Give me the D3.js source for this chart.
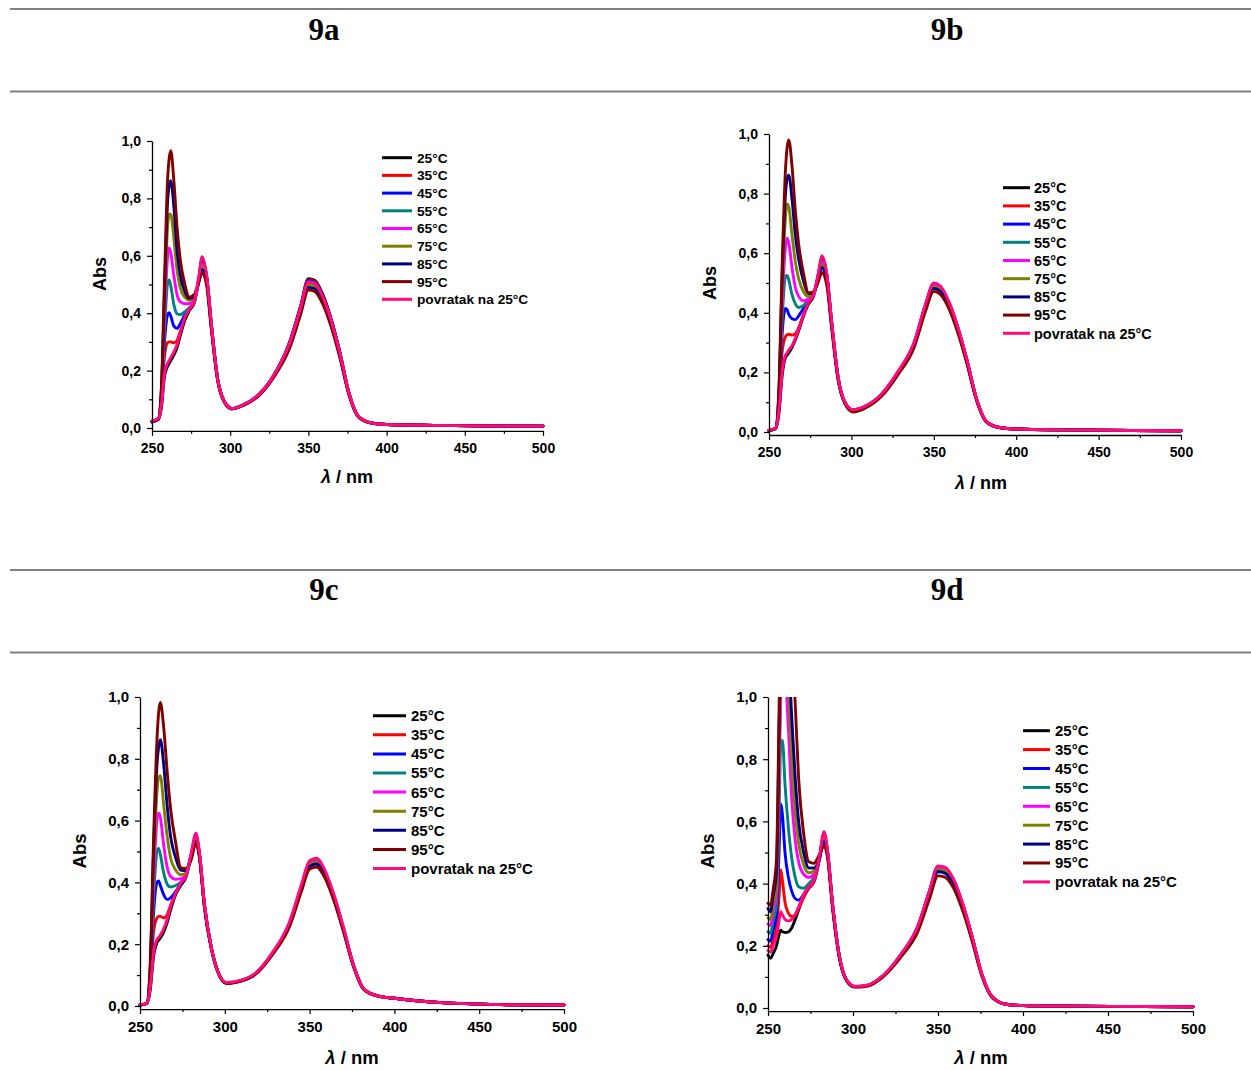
<!DOCTYPE html>
<html><head><meta charset="utf-8">
<script src="https://cdn.jsdelivr.net/npm/d3@7"></script>
<style>
body{margin:0;background:#fff}
svg{display:block}
</style>
</head><body>
<svg id="chart" width="1251" height="1070"></svg>
<script>
// ---------- data ----------
const seriesNames = ["25°C","35°C","45°C","55°C","65°C","75°C","85°C","95°C","povratak na 25°C"];
const seriesColors = ["#000000","#ff0000","#0000ff","#008080","#ff00ff","#808000","#000080","#800000","#ff0a80"];
const panelTitles = ["9a","9b","9c","9d"];
const yTicks = [0,0.2,0.4,0.6,0.8,1.0];
const yMinor = [0.1,0.3,0.5,0.7,0.9];
const xTicks = [250,300,350,400,450,500];
const xMinor = [275,325,375,425,475];

const wl9a = [250,254,256,258,260,261,262,264,266,268,271,274,277,280,282,285,288,292,296,301,308,318,328,338,345,350,354,359,365,370,376,382,390,400,430,470,500];
const wl9b = [250,254,256,258,260,261,262,264,266,268,271,274,277,280,282,285,288,292,296,301,308,318,328,338,345,350,354,359,365,370,376,382,390,400,430,470,500];
const wl9c = [250,254,256,258,260,261,262,264,266,268,271,274,277,280,283,285,288,292,296,301,308,318,328,338,345,350,354,359,365,370,376,382,390,400,430,470,500];
const wl9d = [250,251.5,253,255,256.5,257.5,258.5,260,262,264,266,268,271,274,277,280,283,285,288,292,296,301,308,318,328,338,345,350,354,359,365,370,376,382,390,400,430,470,500];

const abs9a = [
 [0.022,0.03,0.07,0.18,0.215,0.225,0.235,0.255,0.28,0.32,0.375,0.41,0.435,0.52,0.59,0.525, 0.36,0.17,0.095,0.068,0.08,0.115,0.185, 0.30,0.425,0.52,0.515,0.468,0.372,0.268, 0.122,0.041,0.018,0.012,0.009,0.007,0.006],
 [0.022,0.03,0.08,0.25,0.298,0.30,0.30,0.297,0.305,0.335,0.385,0.415,0.44,0.525,0.585,0.525, 0.36,0.17,0.095,0.068,0.08,0.115,0.185, 0.298,0.422,0.516,0.511,0.464,0.369,0.266, 0.121,0.04,0.018,0.012,0.009,0.007,0.006],
 [0.022,0.03,0.09,0.30,0.395,0.402,0.39,0.355,0.347,0.362,0.395,0.418,0.44,0.52,0.578,0.52, 0.358,0.17,0.095,0.068,0.08,0.115,0.185, 0.297,0.42,0.513,0.508,0.462,0.367,0.265, 0.121,0.04,0.018,0.012,0.009,0.007,0.006],
 [0.022,0.03,0.10,0.34,0.505,0.516,0.495,0.43,0.398,0.395,0.405,0.42,0.44,0.518,0.572,0.517, 0.356,0.17,0.095,0.068,0.08,0.115,0.185, 0.294,0.416,0.508,0.503,0.457,0.364,0.262, 0.12,0.04,0.018,0.012,0.009,0.007,0.006],
 [0.022,0.03,0.11,0.38,0.60,0.627,0.61,0.53,0.465,0.44,0.433,0.434,0.445,0.515,0.567,0.512, 0.354,0.17,0.095,0.068,0.08,0.115,0.184, 0.291,0.412,0.503,0.498,0.453,0.36,0.259, 0.119,0.04,0.018,0.012,0.009,0.007,0.006],
 [0.022,0.03,0.12,0.43,0.70,0.745,0.745,0.66,0.55,0.49,0.455,0.445,0.452,0.515,0.562,0.51, 0.352,0.168,0.094,0.067,0.079,0.114,0.183, 0.288,0.408,0.498,0.493,0.449,0.357,0.257, 0.118,0.039,0.018,0.012,0.009,0.007,0.006],
 [0.022,0.03,0.13,0.47,0.79,0.845,0.862,0.77,0.62,0.535,0.475,0.452,0.458,0.51,0.552,0.505, 0.348,0.167,0.094,0.067,0.079,0.113,0.181, 0.284,0.402,0.49,0.485,0.442,0.352,0.253, 0.116,0.039,0.018,0.012,0.009,0.007,0.006],
 [0.025,0.032,0.14,0.52,0.87,0.94,0.966,0.86,0.70,0.59,0.50,0.456,0.465,0.51,0.54,0.495, 0.34,0.165,0.093,0.066,0.078,0.111,0.178, 0.278,0.395,0.481,0.476,0.434,0.345,0.248, 0.114,0.038,0.017,0.012,0.009,0.007,0.006],
 [0.025,0.033,0.08,0.19,0.225,0.235,0.245,0.265,0.29,0.33,0.385,0.415,0.44,0.53,0.597,0.53, 0.36,0.17,0.095,0.068,0.08,0.115,0.185, 0.295,0.418,0.51,0.505,0.46,0.366,0.263, 0.12,0.04,0.018,0.012,0.009,0.007,0.006]
];

const abs9b = [
 [0.005,0.012,0.06,0.19,0.25,0.258,0.265,0.285,0.31,0.34,0.39,0.43,0.455,0.53,0.58,0.53, 0.37,0.18,0.1,0.072,0.083,0.123,0.197, 0.295,0.423,0.492,0.482,0.433,0.34,0.241, 0.108,0.034,0.015,0.01,0.007,0.005,0.004],
 [0.005,0.012,0.08,0.27,0.32,0.326,0.328,0.325,0.33,0.35,0.395,0.435,0.46,0.53,0.582,0.53, 0.37,0.18,0.1,0.073,0.084,0.124,0.198, 0.297,0.425,0.494,0.484,0.435,0.341,0.242, 0.109,0.035,0.015,0.01,0.007,0.005,0.004],
 [0.005,0.012,0.09,0.33,0.415,0.41,0.395,0.38,0.377,0.39,0.415,0.44,0.46,0.525,0.577,0.525, 0.368,0.18,0.1,0.074,0.085,0.125,0.199, 0.298,0.427,0.497,0.487,0.437,0.343,0.244, 0.11,0.035,0.015,0.01,0.007,0.005,0.004],
 [0.005,0.012,0.10,0.38,0.52,0.525,0.51,0.46,0.43,0.418,0.425,0.443,0.46,0.525,0.573,0.522, 0.366,0.18,0.1,0.074,0.085,0.125,0.199, 0.297,0.426,0.495,0.485,0.436,0.342,0.243, 0.11,0.035,0.015,0.01,0.007,0.005,0.004],
 [0.005,0.012,0.11,0.43,0.62,0.65,0.635,0.55,0.485,0.455,0.44,0.447,0.462,0.522,0.568,0.518, 0.364,0.179,0.1,0.073,0.084,0.124,0.198, 0.295,0.423,0.492,0.482,0.433,0.34,0.241, 0.109,0.035,0.015,0.01,0.007,0.005,0.004],
 [0.005,0.012,0.12,0.48,0.72,0.765,0.755,0.66,0.57,0.515,0.47,0.455,0.465,0.52,0.562,0.515, 0.362,0.178,0.099,0.072,0.083,0.123,0.196, 0.292,0.419,0.487,0.477,0.429,0.336,0.239, 0.108,0.034,0.015,0.01,0.007,0.005,0.004],
 [0.005,0.012,0.13,0.52,0.80,0.85,0.862,0.78,0.66,0.58,0.505,0.465,0.468,0.515,0.552,0.508, 0.358,0.176,0.098,0.07,0.082,0.121,0.194, 0.289,0.415,0.482,0.472,0.424,0.333,0.236, 0.107,0.034,0.015,0.01,0.007,0.005,0.004],
 [0.006,0.013,0.14,0.56,0.88,0.955,0.98,0.89,0.74,0.63,0.53,0.467,0.47,0.505,0.535,0.495, 0.35,0.172,0.096,0.067,0.079,0.118,0.19, 0.283,0.406,0.472,0.462,0.416,0.326,0.231, 0.105,0.033,0.014,0.01,0.007,0.005,0.004],
 [0.006,0.013,0.07,0.2,0.258,0.266,0.275,0.29,0.315,0.345,0.395,0.435,0.46,0.535,0.592,0.535, 0.372,0.182,0.101,0.075,0.086,0.126,0.201, 0.30,0.43,0.50,0.49,0.44,0.345,0.245, 0.11,0.035,0.015,0.01,0.007,0.005,0.004]
];

const abs9c = [
 [0.003,0.008,0.05,0.16,0.205,0.213,0.22,0.24,0.27,0.31,0.36,0.39,0.415,0.48,0.545,0.49, 0.325,0.19,0.11,0.075,0.08,0.104,0.168, 0.26,0.375,0.452,0.46,0.423,0.336,0.245, 0.128,0.054,0.033,0.025,0.01,0.004,0.003],
 [0.003,0.008,0.07,0.24,0.285,0.29,0.29,0.285,0.295,0.325,0.365,0.395,0.42,0.485,0.552,0.495, 0.328,0.19,0.11,0.075,0.08,0.104,0.169, 0.263,0.379,0.457,0.465,0.427,0.34,0.248, 0.129,0.054,0.033,0.025,0.01,0.004,0.003],
 [0.003,0.008,0.08,0.30,0.40,0.405,0.39,0.36,0.345,0.35,0.37,0.395,0.42,0.485,0.548,0.495, 0.327,0.19,0.11,0.075,0.08,0.105,0.17, 0.265,0.383,0.462,0.47,0.432,0.344,0.25, 0.13,0.055,0.033,0.025,0.01,0.004,0.003],
 [0.003,0.008,0.09,0.35,0.50,0.51,0.49,0.43,0.395,0.385,0.39,0.40,0.42,0.483,0.545,0.494, 0.326,0.19,0.11,0.075,0.08,0.105,0.17, 0.265,0.383,0.462,0.47,0.432,0.344,0.25, 0.13,0.055,0.033,0.025,0.01,0.004,0.003],
 [0.003,0.008,0.10,0.40,0.60,0.624,0.61,0.52,0.45,0.42,0.41,0.412,0.425,0.483,0.542,0.492, 0.325,0.19,0.11,0.075,0.08,0.105,0.17, 0.264,0.381,0.46,0.468,0.43,0.342,0.249, 0.13,0.055,0.033,0.025,0.01,0.004,0.003],
 [0.003,0.008,0.11,0.45,0.69,0.74,0.745,0.65,0.55,0.48,0.44,0.425,0.43,0.48,0.538,0.49, 0.324,0.189,0.11,0.075,0.08,0.104,0.169, 0.263,0.379,0.457,0.465,0.427,0.34,0.248, 0.129,0.054,0.033,0.025,0.01,0.004,0.003],
 [0.003,0.008,0.12,0.50,0.78,0.84,0.862,0.78,0.65,0.55,0.48,0.44,0.438,0.478,0.533,0.487, 0.322,0.188,0.11,0.074,0.079,0.104,0.168, 0.26,0.375,0.452,0.46,0.423,0.336,0.245, 0.128,0.054,0.033,0.025,0.01,0.004,0.003],
 [0.004,0.009,0.13,0.54,0.86,0.95,0.982,0.9,0.76,0.64,0.53,0.448,0.445,0.47,0.527,0.482, 0.318,0.186,0.108,0.073,0.078,0.102,0.165, 0.255,0.368,0.443,0.45,0.415,0.33,0.24, 0.126,0.053,0.032,0.025,0.01,0.004,0.003],
 [0.004,0.009,0.06,0.17,0.215,0.222,0.23,0.25,0.28,0.32,0.365,0.398,0.42,0.49,0.559,0.5, 0.33,0.19,0.11,0.076,0.081,0.106,0.172, 0.27,0.39,0.47,0.478,0.44,0.35,0.255, 0.13,0.055,0.033,0.025,0.01,0.004,0.003]
];

const abs9d = [
 [0.17,0.16,0.175,0.2,0.235,0.25,0.245,0.243,0.245,0.258,0.285,0.315,0.36,0.385,0.405,0.47,0.555,0.5, 0.33,0.165,0.092,0.069,0.072,0.105,0.168, 0.258,0.372,0.45,0.446,0.41,0.323,0.228, 0.104,0.035,0.012,0.008,0.006,0.005,0.004],
 [0.2,0.195,0.22,0.26,0.36,0.444,0.41,0.34,0.305,0.294,0.3,0.32,0.355,0.385,0.405,0.475,0.56,0.505, 0.333,0.166,0.092,0.069,0.072,0.105,0.169, 0.259,0.374,0.452,0.448,0.412,0.324,0.229, 0.105,0.035,0.012,0.008,0.006,0.005,0.004],
 [0.22,0.215,0.25,0.3,0.5,0.655,0.62,0.5,0.42,0.375,0.352,0.347,0.365,0.39,0.41,0.475,0.555,0.503, 0.332,0.166,0.092,0.069,0.072,0.106,0.17, 0.261,0.376,0.455,0.451,0.414,0.326,0.231, 0.105,0.035,0.012,0.008,0.006,0.005,0.004],
 [0.245,0.24,0.28,0.33,0.62,0.85,0.86,0.72,0.58,0.48,0.42,0.39,0.385,0.4,0.42,0.475,0.553,0.5, 0.331,0.166,0.092,0.069,0.072,0.105,0.169, 0.259,0.374,0.452,0.448,0.412,0.324,0.229, 0.105,0.035,0.012,0.008,0.006,0.005,0.004],
 [0.27,0.265,0.31,0.37,0.72,1.0,1.1,1.08,0.9,0.67,0.54,0.47,0.43,0.42,0.43,0.475,0.55,0.5, 0.33,0.165,0.092,0.069,0.072,0.105,0.168, 0.257,0.37,0.448,0.444,0.408,0.321,0.227, 0.104,0.035,0.012,0.008,0.006,0.005,0.004],
 [0.29,0.285,0.33,0.4,0.8,1.1,1.25,1.25,1.05,0.8,0.63,0.53,0.46,0.435,0.44,0.475,0.545,0.498, 0.329,0.165,0.092,0.069,0.072,0.104,0.167, 0.255,0.368,0.445,0.441,0.405,0.319,0.226, 0.104,0.035,0.012,0.008,0.006,0.005,0.004],
 [0.32,0.31,0.36,0.44,0.88,1.2,1.4,1.4,1.15,0.93,0.74,0.6,0.5,0.45,0.45,0.475,0.535,0.493, 0.327,0.164,0.091,0.068,0.071,0.104,0.166, 0.251,0.362,0.438,0.434,0.398,0.314,0.222, 0.103,0.034,0.012,0.008,0.006,0.005,0.004],
 [0.337,0.33,0.38,0.48,0.95,1.3,1.5,1.7,1.5,1.2,0.98,0.74,0.56,0.47,0.465,0.49,0.52,0.485, 0.32,0.16,0.09,0.067,0.07,0.102,0.163, 0.244,0.351,0.425,0.421,0.387,0.305,0.216, 0.1,0.033,0.012,0.008,0.006,0.005,0.004],
 [0.185,0.18,0.2,0.23,0.28,0.31,0.3,0.285,0.28,0.285,0.3,0.325,0.365,0.39,0.41,0.48,0.567,0.51, 0.335,0.167,0.093,0.07,0.073,0.106,0.172, 0.262,0.378,0.457,0.453,0.416,0.328,0.232, 0.106,0.035,0.012,0.008,0.006,0.005,0.004]
];

// ---------- layout (pixels) ----------
const layouts = [
 {x0:152,x1:543,yTop:141,yZero:428, tick:14, lab:18, xlab:[347,477], ylab:[100,274], leg:{l0:382,l1:412,tx:417,y0:157.7,dy:17.7,fs:13.7}, title:[324,40]},
 {x0:769,x1:1181,yTop:134,yZero:432, tick:14, lab:18, xlab:[981,483], ylab:[710,283], leg:{l0:1003,l1:1030,tx:1034,y0:187.7,dy:18.2,fs:14.5}, title:[947,40]},
 {x0:140,x1:564,yTop:697,yZero:1006, tick:15, lab:18.5, xlab:[352,1058], ylab:[80,851], leg:{l0:373,l1:406,tx:411,y0:715.7,dy:19.1,fs:15}, title:[324,600]},
 {x0:768,x1:1193,yTop:697,yZero:1008, tick:15, lab:18.5, xlab:[981,1058], ylab:[708,851], leg:{l0:1023,l1:1050,tx:1055,y0:730.7,dy:18.9,fs:15}, title:[947,600]}
];
const panelWl = [wl9a, wl9b, wl9c, wl9d];
const panelAbs = [abs9a, abs9b, abs9c, abs9d];

const FONT = "'Liberation Sans', Arial, sans-serif";
const svg = d3.select("#chart");
svg.append("rect").attr("width",1251).attr("height",1070).attr("fill","#fff");

// separator lines
[9, 91.5, 570, 652.5].forEach(yy => {
  svg.append("line").attr("x1",10).attr("x2",1251).attr("y1",yy).attr("y2",yy)
    .attr("stroke","#808080").attr("stroke-width",2);
});

const fmt = v => d3.format(".1f")(v).replace(".", ",");

layouts.forEach((L, p) => {
  const wl = panelWl[p], rows = panelAbs[p];
  const x = d3.scaleLinear().domain([250,500]).range([L.x0, L.x1]);
  const span = L.yZero - L.yTop;
  const y = d3.scaleLinear().domain([-0.01, 1.0]).range([L.yZero + 0.01*span, L.yTop]);

  // title
  svg.append("text").attr("x", L.title[0]).attr("y", L.title[1])
    .attr("text-anchor","middle").attr("font-family","'Liberation Serif','Times New Roman',serif")
    .attr("font-weight","bold").attr("font-size",31).text(panelTitles[p]);

  // clip
  const cid = "clip" + p;
  svg.append("clipPath").attr("id", cid).append("rect")
    .attr("x", L.x0 - 2).attr("y", L.yTop).attr("width", L.x1 - L.x0 + 4)
    .attr("height", y(-0.01) - L.yTop + 2);

  const line = d3.line().x(d => x(d[0])).y(d => y(d[1])).curve(d3.curveMonotoneX);
  const g = svg.append("g").attr("clip-path", `url(#${cid})`);
  rows.forEach((row, i) => {
    g.append("path").datum(wl.map((w, j) => [w, row[j]]))
      .attr("d", line).attr("fill","none").attr("stroke", seriesColors[i])
      .attr("stroke-width", 2.9).attr("stroke-linejoin","round").attr("stroke-linecap","round");
  });

  // axes
  const styleAxis = sel => {
    sel.attr("font-family", FONT).attr("font-size", L.tick).attr("font-weight","bold");
    sel.selectAll("path.domain").attr("stroke","#000").attr("stroke-width",1.3);
    sel.selectAll(".tick line").attr("stroke","#000").attr("stroke-width",1.2);
    sel.selectAll(".tick text").attr("fill","#000");
  };
  const yAxis = d3.axisLeft(y).tickValues(yTicks).tickFormat(fmt).tickSize(5).tickPadding(6).tickSizeOuter(0);
  svg.append("g").attr("transform", `translate(${L.x0},0)`).call(yAxis).call(styleAxis);
  const yAxisMinor = d3.axisLeft(y).tickValues(yMinor).tickFormat("").tickSize(3).tickSizeOuter(0);
  svg.append("g").attr("transform", `translate(${L.x0},0)`).call(yAxisMinor).call(styleAxis)
    .call(s => s.select("path.domain").remove());

  const xAxis = d3.axisBottom(x).tickValues(xTicks).tickFormat(d3.format("d")).tickSize(5).tickPadding(7).tickSizeOuter(0);
  svg.append("g").attr("transform", `translate(0,${y(-0.01)})`).call(xAxis).call(styleAxis);
  const xAxisMinor = d3.axisBottom(x).tickValues(xMinor).tickFormat("").tickSize(3).tickSizeOuter(0);
  svg.append("g").attr("transform", `translate(0,${y(-0.01)})`).call(xAxisMinor).call(styleAxis)
    .call(s => s.select("path.domain").remove());

  // axis titles
  const xt = svg.append("text").attr("x", L.xlab[0]).attr("y", L.xlab[1]).attr("dy","0.35em")
    .attr("text-anchor","middle").attr("font-family", FONT).attr("font-weight","bold").attr("font-size", L.lab);
  xt.append("tspan").attr("font-style","italic").text("λ");
  xt.append("tspan").text(" / nm");
  svg.append("text").attr("transform", `translate(${L.ylab[0]},${L.ylab[1]}) rotate(-90)`)
    .attr("dy","0.35em").attr("text-anchor","middle").attr("font-family", FONT)
    .attr("font-weight","bold").attr("font-size", L.lab).text("Abs");

  // legend
  const lg = L.leg;
  seriesNames.forEach((name, i) => {
    const yy = lg.y0 + i * lg.dy;
    svg.append("line").attr("x1", lg.l0).attr("x2", lg.l1).attr("y1", yy).attr("y2", yy)
      .attr("stroke", seriesColors[i]).attr("stroke-width", 3);
    svg.append("text").attr("x", lg.tx).attr("y", yy).attr("dy","0.36em")
      .attr("font-family", FONT).attr("font-weight","bold").attr("font-size", lg.fs)
      .attr("fill","#000").text(name);
  });
});
</script>
</body></html>
